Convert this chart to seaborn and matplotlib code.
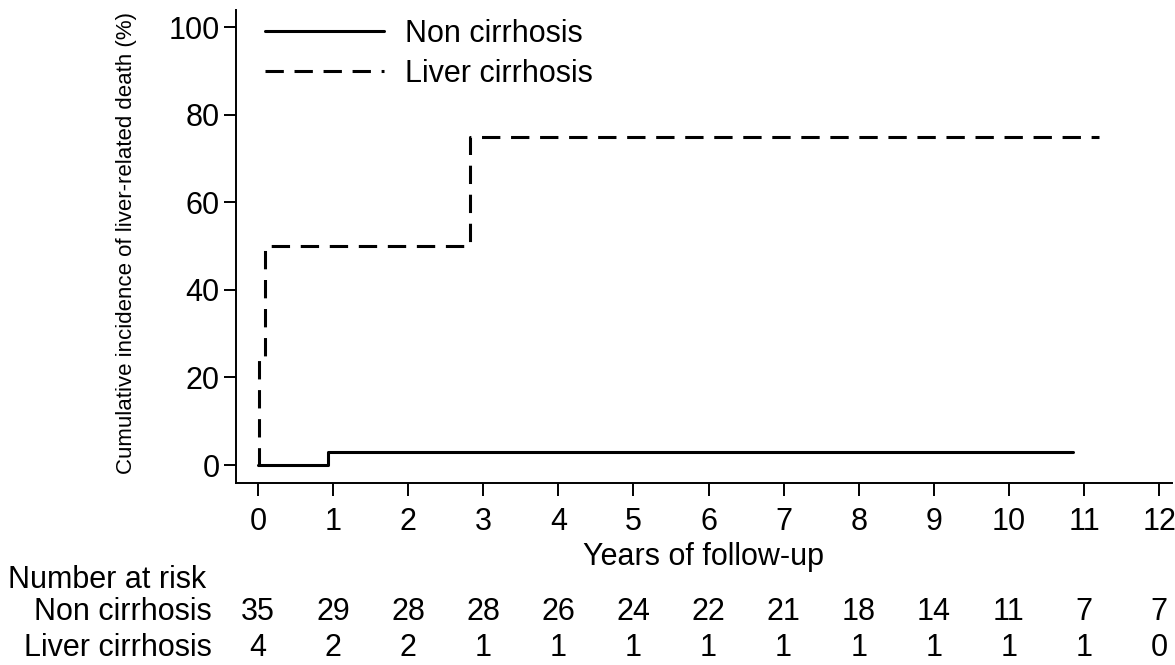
import numpy as np
import pandas as pd
import matplotlib
matplotlib.use("Agg")
import matplotlib.pyplot as plt
import seaborn as sns
from matplotlib.transforms import blended_transform_factory

# ---- data ----
groups = ["Non cirrhosis", "Liver cirrhosis"]
non_time = [0.0, 0.93, 10.85]
non_cum = [0.0, 2.9, 2.9]
lc_time = [0.0, 0.01, 0.10, 2.82, 11.2]
lc_cum = [0.0, 25.0, 50.0, 75.0, 75.0]
risk_times = [0, 1, 2, 3, 4, 5, 6, 7, 8, 9, 10, 11, 12]
risk_non = [35, 29, 28, 28, 26, 24, 22, 21, 18, 14, 11, 7, 7]
risk_lc = [4, 2, 2, 1, 1, 1, 1, 1, 1, 1, 1, 1, 0]

df = pd.concat([
    pd.DataFrame({"time": non_time, "cum": non_cum, "group": groups[0]}),
    pd.DataFrame({"time": lc_time, "cum": lc_cum, "group": groups[1]}),
], ignore_index=True)

sns.set_style("ticks")
plt.rcParams["font.family"] = ["Liberation Sans", "DejaVu Sans"]
plt.rcParams["text.color"] = "black"
plt.rcParams["axes.labelcolor"] = "black"

FS = 22
fig = plt.figure(figsize=(11.75, 6.65), dpi=100)
ax = fig.add_axes([0.2009, 0.2737, 0.7965, 0.7113])

sns.lineplot(data=df, x="time", y="cum", hue="group", style="group",
             hue_order=groups, style_order=groups,
             palette={groups[0]: "black", groups[1]: "black"},
             dashes={groups[0]: "", groups[1]: (6, 3.5)},
             drawstyle="steps-post", linewidth=2.2, estimator=None,
             legend=False, ax=ax)

lines = ax.get_lines()[:2]
leg = ax.legend(lines, groups, loc="upper left", bbox_to_anchor=(0.0177, 1.007),
                frameon=False, fontsize=FS, handlelength=3.9, handletextpad=0.7,
                labelspacing=0.32, borderaxespad=0.0, labelcolor="black")

ax.set_xlim(-0.29, 12.17)
ax.set_ylim(-4.1, 103.9)
ax.set_xticks(risk_times)
ax.set_yticks([0, 20, 40, 60, 80, 100])
sns.despine(ax=ax)
for s in ["left", "bottom"]:
    ax.spines[s].set_linewidth(1.4)
    ax.spines[s].set_color("black")
ax.tick_params(axis="both", colors="black", labelsize=FS, width=1.4, length=9)
ax.tick_params(axis="x", pad=8)
ax.tick_params(axis="y", pad=3)
ax.set_xlabel("")
ax.set_ylabel("Cumulative incidence of liver-related death (%)", fontsize=16, color="black")
ax.yaxis.set_label_coords(-0.106, 0.507)

fig.text(0.5985, 0.1624, "Years of follow-up", ha="center", va="center", fontsize=FS, color="black")
fig.text(0.0068, 0.128, "Number at risk", ha="left", va="center", fontsize=FS, color="black")
fig.text(0.1804, 0.0797, "Non cirrhosis", ha="right", va="center", fontsize=FS, color="black")
fig.text(0.1804, 0.0256, "Liver cirrhosis", ha="right", va="center", fontsize=FS, color="black")
tr = blended_transform_factory(ax.transData, fig.transFigure)
for t, a, b in zip(risk_times, risk_non, risk_lc):
    ax.text(t, 0.0797, str(a), transform=tr, ha="center", va="center", fontsize=FS,
            color="black", clip_on=False)
    ax.text(t, 0.0256, str(b), transform=tr, ha="center", va="center", fontsize=FS,
            color="black", clip_on=False)

fig.savefig("out.png", dpi=100, facecolor="white")
